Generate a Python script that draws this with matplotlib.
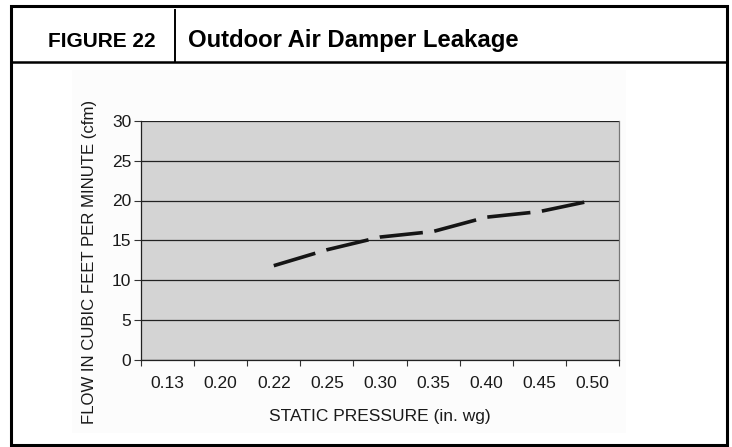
import matplotlib
matplotlib.use("Agg")
import matplotlib.pyplot as plt
from matplotlib.lines import Line2D
from matplotlib.patches import Rectangle
import numpy as np

plt.rcParams['font.family'] = ['Liberation Sans', 'DejaVu Sans']

# data
pressures = ["0.13", "0.20", "0.22", "0.25", "0.30", "0.35", "0.40", "0.45", "0.50"]
flow_cfm = [np.nan, np.nan, 11.8, 13.8, 15.4, 16.1, 17.9, 18.6, 20.0]
y_ticks = [0, 5, 10, 15, 20, 25, 30]

W, H = 732, 447

def fx(px):
    return px / W

def fy(py):
    return 1 - py / H

fig = plt.figure(figsize=(W / 100, H / 100), dpi=100)
fig.patch.set_facecolor("white")

# faint off-white background of the pasted chart image
fig.add_artist(Rectangle((fx(72), fy(433)), fx(626) - fx(72), fy(70) - fy(433),
                         transform=fig.transFigure, facecolor="#fcfcfc",
                         edgecolor="none", zorder=0))

# outer frame and header box
frame = dict(transform=fig.transFigure, color="black", zorder=5)
fig.add_artist(Rectangle((fx(11), fy(445)), fx(727) - fx(11), fy(6) - fy(445),
                         transform=fig.transFigure, fill=False,
                         edgecolor="black", linewidth=2.2, zorder=5))
fig.add_artist(Line2D([fx(11), fx(727)], [fy(62), fy(62)], linewidth=1.8, **frame))
fig.add_artist(Line2D([fx(175), fx(175)], [fy(10), fy(62)], linewidth=1.4, **frame))

fig.text(fx(102), fy(47), "FIGURE 22", ha="center", va="baseline",
         fontsize=15, fontweight="bold")
fig.text(fx(188), fy(47), "Outdoor Air Damper Leakage", ha="left", va="baseline",
         fontsize=17.2, fontweight="bold")

ax = fig.add_axes([fx(141), fy(359.5), fx(619) - fx(141), fy(121) - fy(359.5)])
ax.set_facecolor("#d4d4d4")

x = np.arange(len(pressures))
ax.plot(x, flow_cfm, color="#151515", linewidth=2.6, dashes=(12, 3.2),
        solid_capstyle="butt", dash_capstyle="butt", zorder=3)

ax.set_xlim(-0.5, len(pressures) - 0.5)
ax.set_ylim(0, 30)
ax.set_yticks(y_ticks)
ax.yaxis.grid(True, color="#222222", linewidth=0.9)
ax.set_axisbelow(True)

ax.set_xticks(np.arange(-0.5, len(pressures), 1.0))
ax.set_xticklabels([])
ax.set_xticks(x, minor=True)
ax.set_xticklabels(pressures, minor=True)
ax.tick_params(axis="x", which="major", direction="out", length=4, width=0.8,
               color="#333333")
ax.tick_params(axis="x", which="minor", length=0, pad=12, labelsize=12.5,
               labelcolor="#1a1a1a")
ax.tick_params(axis="y", direction="out", length=5, width=0.8, pad=2,
               labelsize=12.5, labelcolor="#1a1a1a", color="#333333")

for side in ["left", "bottom"]:
    ax.spines[side].set_color("#222222")
    ax.spines[side].set_linewidth(0.9)
ax.spines["right"].set_color("#777777")
ax.spines["right"].set_linewidth(0.9)
ax.spines["top"].set_visible(False)

fig.text(fx(380), fy(416), "STATIC PRESSURE (in. wg)", ha="center", va="center",
         fontsize=12.5, color="#1a1a1a")
fig.text(fx(90), fy(262), "FLOW IN CUBIC FEET PER MINUTE (cfm)", ha="center",
         va="center", rotation=90, fontsize=12.1, color="#1a1a1a")

fig.savefig("out.png", dpi=100, facecolor="white")
